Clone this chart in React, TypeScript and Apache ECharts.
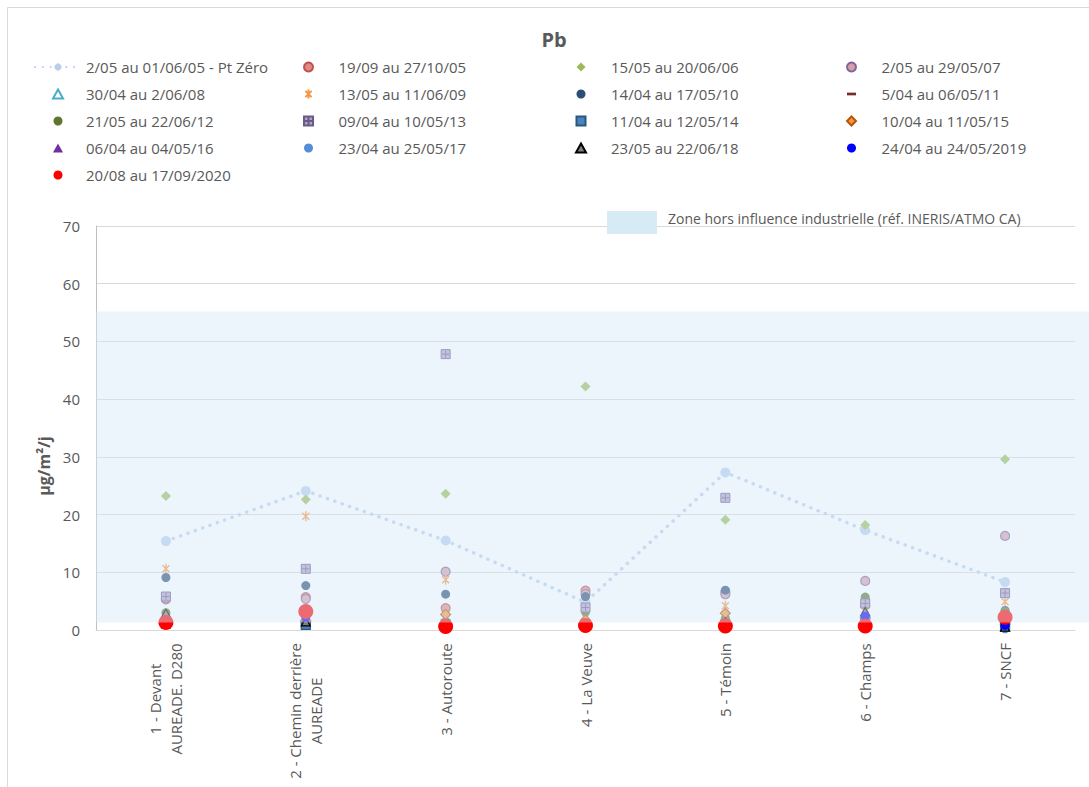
import React, { useEffect, useRef } from 'react';
import * as echarts from 'echarts';

// ---- data -------------------------------------------------------------
const sites = [
  '1 - Devant\nAUREADE. D280',
  '2 - Chemin derrière\nAUREADE',
  '3 - Autoroute',
  '4 - La Veuve',
  '5 - Témoin',
  '6 - Champs',
  '7 - SNCF',
];

const yMin = 0;
const yMax = 70;
const yStep = 10;

// reference zone (hors influence industrielle), µg/m²/j
const zoneLow = 1.3;
const zoneHigh = 55.2;

const ptZero = [15.4, 24.1, 15.5, 4.8, 27.3, 17.3, 8.3];
const oct05 = [5.3, 5.7, 3.8, 6.8, 6.6, 4.3, 2.6];
const jun06 = [23.2, 22.6, 23.6, 42.2, 19.1, 18.2, 29.6];
const may07 = [5.5, 5.4, 10.1, 6.2, 6.2, 8.5, 16.3];
const jun08 = [2.6, 2.1, 1.9, 2.2, 2.0, 2.8, 1.8];
const jun09 = [10.6, 19.7, 8.7, 2.5, 4.2, 3.6, 4.9];
const may10 = [9.1, 7.7, 6.2, 5.8, 6.9, 5.2, 3.4];
const may11 = [1.2, 1.4, 1.0, 1.1, 1.2, 1.1, 1.0];
const jun12 = [3.0, 2.7, 1.5, 3.1, 2.0, 5.7, 3.2];
const may13 = [5.8, 10.6, 47.8, 3.9, 22.9, 4.6, 6.4];
const may14 = [1.1, 0.9, 1.0, 0.9, 1.0, 1.2, 0.6];
const may15 = [1.9, 1.6, 2.7, 1.7, 2.9, 2.2, 2.0];
const may16 = [1.6, 2.0, 1.3, 1.3, 1.5, 2.0, 1.2];
const may17 = [1.4, 2.4, 1.1, 1.0, 1.2, 2.2, 0.2];
const jun18 = [2.9, 1.4, 1.0, 0.8, 1.4, 3.2, 0.5];
const may19 = [1.2, 2.2, 0.8, 0.7, 0.9, 2.4, 0.8];
const sep20 = [1.3, 3.2, 0.6, 0.8, 0.7, 0.7, 2.2];

// ---- styling ----------------------------------------------------------
const FONT = '"Open Sans", "DejaVu Sans", sans-serif';
const TEXT = '#595959';

const CIRCLE = 'circle';
const TRIANGLE = 'path://M5,0L10,9L0,9Z';
const DIAMOND = 'path://M5,0L10,5L5,10L0,5Z';
const SQUARE = 'path://M0,0H10V10H0Z';
const DASH = 'path://M0,0M10,10M0,3.5H10V6.5H0Z';
const STAR = 'path://M1.5,1.5L8.5,8.5M8.5,1.5L1.5,8.5M5,0L5,10';
const PLUS_BOX = 'path://M0,0H10V10H0ZM5,1V9M1,5H9';

type Mark = {
  name: string;
  data: number[];
  symbol: string;
  size: number;
  fill: string;
  border?: string;
  borderWidth?: number;
};

const marks: Mark[] = [
  { name: '19/09 au 27/10/05', data: oct05, symbol: CIRCLE, size: 9, fill: '#e08a88', border: '#c0504d', borderWidth: 1.2 },
  { name: '15/05 au 20/06/06', data: jun06, symbol: DIAMOND, size: 10, fill: '#9bbb59' },
  { name: '2/05 au 29/05/07', data: may07, symbol: CIRCLE, size: 9, fill: '#d6a0a8', border: '#8064a2', borderWidth: 1.2 },
  { name: '30/04 au 2/06/08', data: jun08, symbol: TRIANGLE, size: 9, fill: '#ffffff', border: '#4bacc6', borderWidth: 1.5 },
  { name: '13/05 au 11/06/09', data: jun09, symbol: STAR, size: 10, fill: '#f79646', border: '#f79646', borderWidth: 1.4 },
  { name: '14/04 au 17/05/10', data: may10, symbol: CIRCLE, size: 9, fill: '#2c4d75' },
  { name: '5/04 au 06/05/11', data: may11, symbol: DASH, size: 10, fill: '#772c2a' },
  { name: '21/05 au 22/06/12', data: jun12, symbol: CIRCLE, size: 9, fill: '#5f7530' },
  { name: '09/04 au 10/05/13', data: may13, symbol: PLUS_BOX, size: 9, fill: '#b3a2c7', border: '#6a5a88', borderWidth: 1 },
  { name: '11/04 au 12/05/14', data: may14, symbol: SQUARE, size: 9, fill: '#4f81bd', border: '#245a7a', borderWidth: 1.2 },
  { name: '10/04 au 11/05/15', data: may15, symbol: DIAMOND, size: 10, fill: '#f79646', border: '#b65708', borderWidth: 1.2 },
  { name: '06/04 au 04/05/16', data: may16, symbol: TRIANGLE, size: 9, fill: '#7030a0' },
  { name: '23/04 au 25/05/17', data: may17, symbol: CIRCLE, size: 9, fill: '#558ed5' },
  { name: '23/05 au 22/06/18', data: jun18, symbol: TRIANGLE, size: 9, fill: '#7f7f7f', border: '#000000', borderWidth: 1.2 },
  { name: '24/04 au 24/05/2019', data: may19, symbol: CIRCLE, size: 9, fill: '#0000ff' },
  { name: '20/08 au 17/09/2020', data: sep20, symbol: CIRCLE, size: 15, fill: '#ff0000' },
];

const PT_ZERO_NAME = '2/05 au 01/06/05 - Pt Zéro';
const PT_ZERO_COLOR = '#b9cfec';

const allNames = [PT_ZERO_NAME, ...marks.map((m) => m.name)];

// x-axis label lines are centred against each other
function measure(text: string, font: string): number {
  const ctx = document.createElement('canvas').getContext('2d');
  if (!ctx) return text.length * 8;
  ctx.font = font;
  return ctx.measureText(text).width;
}

export default function App() {
  const ref = useRef<HTMLDivElement>(null);

  useEffect(() => {
    if (!ref.current) return;
    const chart = echarts.init(ref.current, undefined, { renderer: 'svg' });

    const labelSize = 15;
    const labelFont = `${labelSize}px ${FONT}`;
    const rich: Record<string, any> = {};
    sites.forEach((s, i) => {
      const w = Math.max(...s.split('\n').map((l) => measure(l, labelFont)));
      rich['l' + i] = {
        width: Math.ceil(w) + 2,
        align: 'center',
        fontFamily: FONT,
        fontSize: labelSize,
        color: TEXT,
        lineHeight: 21,
      };
    });

    const legendCols = [0, 1, 2, 3].map((c) => ({
      orient: 'vertical',
      left: [34, 303, 575, 846][c],
      top: 58,
      padding: 0,
      itemWidth: c === 0 ? 46 : 50,
      itemHeight: 9,
      itemGap: 9,
      selectedMode: false,
      textStyle: { fontFamily: FONT, fontSize: 15, color: TEXT, lineHeight: 18 },
      data: allNames.filter((_, i) => i % 4 === c),
    }));

    const series: any[] = [
      {
        name: PT_ZERO_NAME,
        type: 'line',
        data: ptZero,
        symbol: 'circle',
        symbolSize: 10,
        itemStyle: { color: PT_ZERO_COLOR },
        lineStyle: { color: PT_ZERO_COLOR, width: 3.5, type: [0.1, 7.7], cap: 'round' },
        z: 2,
      },
      ...marks.map((m) => ({
        name: m.name,
        type: 'scatter',
        data: m.data,
        symbol: m.symbol,
        symbolSize: m.size,
        symbolKeepAspect: true,
        itemStyle: {
          color: m.fill,
          borderColor: m.border ?? m.fill,
          borderWidth: m.borderWidth ?? 0,
          opacity: 1,
        },
        z: 3,
      })),
    ];

    chart.setOption({
      animation: false,
      backgroundColor: '#ffffff',
      textStyle: { fontFamily: FONT },
      title: {
        text: 'Pb',
        left: 549,
        top: 24,
        textAlign: 'center',
        textStyle: { fontFamily: FONT, fontSize: 20, fontWeight: 'bold', color: TEXT },
      },
      legend: legendCols,
      grid: { left: 96, right: 14, top: 226, bottom: 157 },
      xAxis: {
        type: 'category',
        data: sites,
        axisLine: { lineStyle: { color: '#d9d9d9', width: 1 } },
        axisTick: { show: false },
        splitLine: { show: false },
        axisLabel: {
          interval: 0,
          rotate: 90,
          margin: 12,
          formatter: (value: string, index: number) =>
            value
              .split('\n')
              .map((l) => `{l${index}|${l}}`)
              .join('\n'),
          rich,
        },
      },
      yAxis: {
        type: 'value',
        min: yMin,
        max: yMax,
        interval: yStep,
        axisLine: { show: true, lineStyle: { color: '#bfbfbf', width: 1 } },
        axisTick: { show: false },
        splitLine: { lineStyle: { color: '#d9d9d9', width: 1 } },
        axisLabel: { fontFamily: FONT, fontSize: 15, color: TEXT, margin: 16 },
      },
      series,
    });

    // translucent reference band laid over the markers
    const yTop = chart.convertToPixel({ yAxisIndex: 0 }, zoneHigh) as number;
    const yBottom = chart.convertToPixel({ yAxisIndex: 0 }, zoneLow) as number;

    chart.setOption({
      graphic: [
        {
          id: 'zone',
          type: 'rect',
          z: 100,
          silent: true,
          shape: { x: 96, y: yTop, width: 1089 - 96, height: yBottom - yTop },
          style: { fill: 'rgba(214,233,248,0.46)' },
        },
        {
          id: 'zoneKey',
          type: 'rect',
          z: 100,
          shape: { x: 607, y: 211, width: 50, height: 23 },
          style: { fill: '#d6ebf5' },
        },
        {
          id: 'zoneKeyText',
          type: 'text',
          z: 100,
          x: 668,
          y: 218,
          style: {
            text: 'Zone hors influence industrielle (réf. INERIS/ATMO CA)',
            font: `14px ${FONT}`,
            fill: TEXT,
            align: 'left',
            verticalAlign: 'middle',
          },
        },
        {
          id: 'yName',
          type: 'text',
          z: 100,
          x: 44,
          y: 466,
          rotation: Math.PI / 2,
          style: {
            text: 'µg/m²/j',
            font: `bold 16px ${FONT}`,
            fill: TEXT,
            align: 'center',
            verticalAlign: 'middle',
          },
        },
        {
          id: 'frameLeft',
          type: 'line',
          z: 100,
          shape: { x1: 7.5, y1: 7.5, x2: 7.5, y2: 787 },
          style: { stroke: '#d9d9d9', lineWidth: 1 },
        },
        {
          id: 'frameTop',
          type: 'line',
          z: 100,
          shape: { x1: 7.5, y1: 7.5, x2: 1089, y2: 7.5 },
          style: { stroke: '#d9d9d9', lineWidth: 1 },
        },
      ],
    });

    return () => chart.dispose();
  }, []);

  return (
    <div
      ref={ref}
      style={{ position: 'fixed', left: 0, top: 0, width: 1089, height: 787 }}
    />
  );
}
